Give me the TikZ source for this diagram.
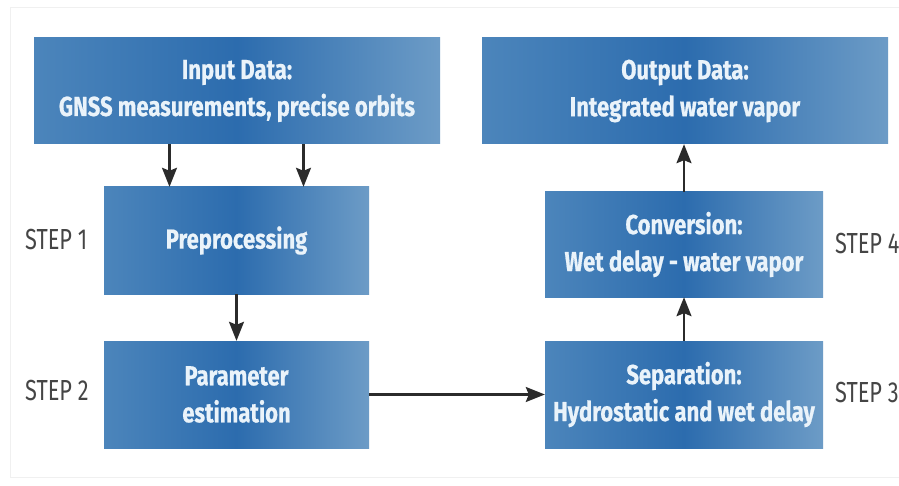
\documentclass[tikz,border=0pt]{standalone}
\usepackage{fontspec}
\usepackage{xcolor}
\usetikzlibrary{arrows.meta}

\newfontfamily\boxfont[FakeStretch=0.80, FakeBold=0.6]{Fira Sans}
\newfontfamily\stepfont[FakeStretch=0.75]{Fira Sans}

\definecolor{boxedge}{HTML}{5F94C3}
\definecolor{boxmid}{HTML}{2C6CAE}
\definecolor{boxrim}{HTML}{8DB3D2}
\definecolor{boxtext}{HTML}{EAF3FA}
\definecolor{arrowgray}{HTML}{2B2B2B}
\definecolor{steptext}{HTML}{454545}

\pgfdeclarehorizontalshading{boxshade}{100bp}{color(0bp)=(boxedge); color(10bp)=(boxedge); color(50bp)=(boxmid); color(84bp)=(boxrim!80!boxedge); color(100bp)=(boxrim)}

\begin{document}
\begin{tikzpicture}[x=1pt, y=-1pt,
    stepbox/.style={shading=boxshade, draw=none, align=center, text=boxtext,
                    font=\boxfont\bfseries\fontsize{27.5}{37}\selectfont},
    steplabel/.style={anchor=west, inner sep=0pt, text=steptext,
                      font=\stepfont\fontsize{29}{34}\selectfont},
    flow/.style={->, draw=arrowgray, line width=2.2pt}]
\clip (0,0) rectangle (899,486);
\fill[white] (0,0) rectangle (899,486);
\draw[gray!12, line width=1pt] (10,8) rectangle (912,477);

\begin{scope}
    \node[stepbox, minimum width=406, minimum height=106] (in) at (237,91)
        {Input Data:\\GNSS measurements, precise orbits};
    \node[stepbox, minimum width=406, minimum height=106] (out) at (685,91)
        {Output Data:\\Integrated water vapor};
    \node[stepbox, minimum width=265, minimum height=107] (pre) at (236.5,240.5)
        {Preprocessing};
    \node[stepbox, minimum width=265, minimum height=107] (par) at (236.5,394.5)
        {Parameter\\estimation};
    \node[stepbox, minimum width=278, minimum height=107] (sep) at (684,394.5)
        {Separation:\\Hydrostatic and wet delay};
    \node[stepbox, minimum width=278, minimum height=105] (conv) at (684,244.5)
        {Conversion:\\Wet delay - water vapor};

    \node[steplabel] (s1) at (25,240) {STEP 1};
    \node[steplabel] (s2) at (25,391) {STEP 2};
    \node[steplabel] (s3) at (835,393) {STEP 3};
    \node[steplabel] (s4) at (835,244) {STEP 4};
\end{scope}

\begin{scope}[>={Stealth[length=19pt, width=15pt, inset=3pt]}]
    \draw [flow] ([xshift=-67]pre.north |- in.south) -- ([xshift=-67]pre.north);
    \draw [flow] ([xshift=67]pre.north |- in.south) -- ([xshift=67]pre.north);
    \draw [flow] (pre.south) -- (par.north);
    \draw [flow] (par.east) -- (sep.west);
    \draw [flow] (sep.north) -- (conv.south);
    \draw [flow] (conv.north) -- (conv.north |- out.south);
\end{scope}
\end{tikzpicture}
\end{document}
